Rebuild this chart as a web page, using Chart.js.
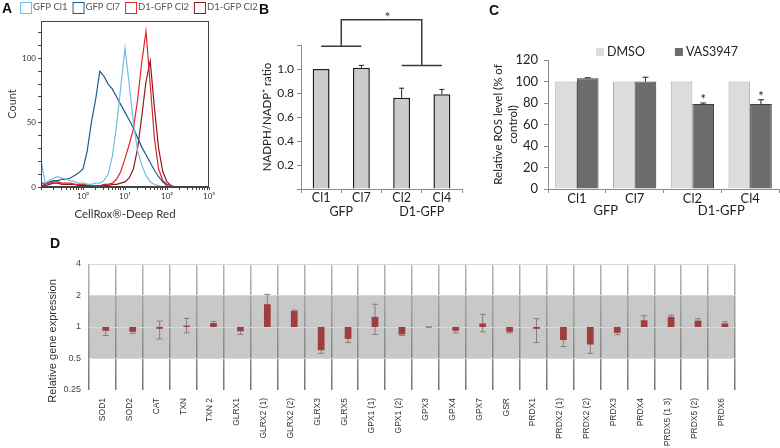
<!DOCTYPE html>
<html>
<head>
<meta charset="utf-8">
<script src="https://cdn.jsdelivr.net/npm/chart.js@4.4.1/dist/chart.umd.min.js"></script>
<style>
html,body{margin:0;padding:0;background:#fff;}
body{position:relative;width:780px;height:448px;overflow:hidden;}
canvas{position:absolute;}
.pl{position:absolute;font-family:'Liberation Sans',Arial,sans-serif;font-weight:bold;font-size:14px;line-height:14px;color:#111;}
</style>
</head>
<body>
<canvas id="chartA" width="260" height="225" style="left:0;top:0;"></canvas>
<canvas id="chartB" width="250" height="225" style="left:225px;top:0;"></canvas>
<canvas id="chartC" width="300" height="225" style="left:480px;top:0;"></canvas>
<canvas id="chartD" width="780" height="213" style="left:0;top:235px;"></canvas>
<div class="pl" style="left:2px;top:1px;">A</div>
<div class="pl" style="left:259px;top:2px;">B</div>
<div class="pl" style="left:489px;top:3px;">C</div>
<div class="pl" style="left:50px;top:236px;">D</div>
<script>
// ---------------- Panel A : CellRox histograms ----------------
const histX = [0.1,0.126,0.158,0.2,0.251,0.316,0.398,0.501,0.631,0.794,1,1.26,1.58,2,2.51,3.16,3.98,5.01,6.31,7.94,10,12.6,15.8,20,25.1,31.6,39.8,50.1,63.1,79.4,100,126,158,200,251];
const histGfpCl1 = [21,3,5,7,8,7,6,5,4,3,3,2,2,3,3,5,10,24,48,78,108,80,50,28,17,9,4,2,1,0,0,0,0,0,0];
const histGfpCl7 = [3,3,4,5,5,6,6,7,9,11,14,28,50,68,90,86,80,76,70,64,58,52,46,38,31,25,19,13,8,4,1,0,0,0,0];
const histD1Cl2a = [1,2,3,4,4,3,3,3,2,2,2,2,1,1,1,2,2,3,6,12,22,33,45,68,97,121,80,38,14,5,2,1,0,0,0];
const histD1Cl2b = [1,1,2,3,3,2,2,2,2,1,1,1,1,1,1,1,1,2,2,3,4,7,14,30,55,82,98,62,30,12,4,1,0,0,0];
const histLabels = ['GFP Cl1','GFP Cl7','D1-GFP Cl2','D1-GFP Cl2'];
const aYLabelled = [0,50,100];
const aXDecades = [0,1,2,3];
const supDigits = ['\u2070','\u00b9','\u00b2','\u00b3'];

// ---------------- Panel B : NADPH/NADP+ ratio ----------------
const bCats = ['Cl1','Cl7','Cl2','Cl4'];
const bGroups = ['GFP','D1-GFP'];
const bRatio = [1.00,1.01,0.76,0.79];
const bRatioErr = [0,0.02,0.08,0.04];
const bSig = {left:1.19, right:1.03, top:1.41, star:1.43, starAt:1.65};

// ---------------- Panel C : relative ROS level ----------------
const cCats = ['Cl1','Cl7','Cl2','Cl4'];
const cGroups = ['GFP','D1-GFP'];
const cDmso = [100,100,100,100];
const cDmsoErr = [0,0,0,0];
const cVas = [103,100,79,79];
const cVasErr = [0.5,4,1,4];
const cStars = ['','','*','*'];

// ---------------- Panel D : relative gene expression ----------------
const genes = ['SOD1','SOD2','CAT','TXN','TXN 2','GLRX1','GLRX2 (1)','GLRX2 (2)','GLRX3','GLRX5','GPX1 (1)','GPX1 (2)','GPX3','GPX4','GPX7','GSR','PRDX1','PRDX2 (1)','PRDX2 (2)','PRDX3','PRDX4','PRDX5 (1 3)','PRDX5 (2)','PRDX6'];
const geneExpr = [0.92,0.90,0.96,1.03,1.09,0.91,1.65,1.42,0.60,0.77,1.25,0.85,1.00,0.92,1.08,0.90,0.96,0.75,0.68,0.88,1.16,1.25,1.15,1.08];
const geneLow  = [0.83,0.87,0.77,0.88,1.05,0.85,1.30,1.40,0.56,0.71,0.85,0.83,0.995,0.88,0.90,0.88,0.71,0.65,0.56,0.845,1.05,1.20,1.10,1.04];
const geneHigh = [0.99,0.93,1.14,1.21,1.13,0.97,2.05,1.45,0.64,0.83,1.65,0.87,1.005,0.96,1.32,0.92,1.20,0.86,0.82,0.91,1.28,1.30,1.20,1.12];
const dTicks = [0.25,0.5,1,2,4];
const dBand = [0.5,2];

// ---------------- common ----------------
Chart.defaults.animation = false;
Chart.defaults.responsive = false;
Chart.defaults.maintainAspectRatio = false;
Chart.defaults.devicePixelRatio = 1;
Chart.defaults.events = [];
Chart.defaults.plugins.legend.display = false;
Chart.defaults.plugins.tooltip.enabled = false;
const CAL = 'Lato, "Open Sans", sans-serif';
const ARIAL = '"Liberation Sans", Arial, sans-serif';
Chart.defaults.font.family = CAL;
const fixW = w => s => { s.width = w; };
const fixH = h => s => { s.height = h; };

const boxLegend = {
  id: 'boxLegend',
  afterDraw(chart, a, o) {
    const c = chart.ctx; c.save();
    c.font = o.font; c.textBaseline = 'middle'; c.textAlign = 'left';
    let x = o.x;
    chart.data.datasets.forEach(ds => {
      const s = o.box;
      if (o.filled) {
        c.fillStyle = ds.backgroundColor; c.fillRect(x, o.y - s / 2, s, s);
      } else {
        c.strokeStyle = ds.borderColor; c.lineWidth = 1; c.strokeRect(x + 0.5, Math.round(o.y - s / 2) + 0.5, s, s);
      }
      c.fillStyle = o.color;
      c.fillText(ds.label, x + s + o.gap, o.y);
      x += s + o.gap + c.measureText(ds.label).width + o.spacing;
    });
    c.restore();
  }
};
const framePlugin = {
  id: 'frame',
  afterDraw(chart, a, o) {
    const {left, top, right, bottom} = chart.chartArea; const c = chart.ctx;
    c.save(); c.strokeStyle = o.color; c.lineWidth = 1;
    c.strokeRect(Math.round(left) + 0.5, Math.round(top) + 0.5, Math.round(right - left) - 1, Math.round(bottom - top) - 1);
    c.restore();
  }
};
const errPlugin = {
  id: 'errBars',
  afterDatasetsDraw(chart, a, o) {
    const c = chart.ctx, ys = chart.scales.y;
    c.save();
    chart.data.datasets.forEach((ds, di) => {
      if (!ds.errorUp) return;
      const meta = chart.getDatasetMeta(di);
      meta.data.forEach((bar, i) => {
        const e = ds.errorUp[i];
        const top = ys.getPixelForValue(ds.data[i] + e);
        if (e > 0) {
          c.strokeStyle = o.color; c.lineWidth = o.width;
          c.beginPath(); c.moveTo(bar.x, bar.y); c.lineTo(bar.x, top);
          c.moveTo(bar.x - o.cap / 2, top); c.lineTo(bar.x + o.cap / 2, top); c.stroke();
        }
        if (ds.stars && ds.stars[i]) {
          c.fillStyle = o.color; c.font = o.starFont; c.textAlign = 'center'; c.textBaseline = 'middle';
          c.fillText(ds.stars[i], bar.x, top - o.starGap);
        }
      });
    });
    c.restore();
  }
};
const groupPlugin = {
  id: 'groups',
  afterDraw(chart, a, o) {
    const xs = chart.scales.x, c = chart.ctx; c.save();
    c.font = o.font; c.fillStyle = o.color; c.textAlign = 'center'; c.textBaseline = 'middle';
    o.labels.forEach((g, gi) => {
      const n = o.size;
      const x = (xs.getPixelForValue(gi * n) + xs.getPixelForValue(gi * n + n - 1)) / 2;
      c.fillText(g, x, o.y);
    });
    c.restore();
  }
};
const bracketPlugin = {
  id: 'bracket',
  afterDraw(chart, a, o) {
    const xs = chart.scales.x, ys = chart.scales.y, c = chart.ctx;
    const X = v => xs.getPixelForValue(v), Y = v => ys.getPixelForValue(v);
    const L = o.levels;
    c.save(); c.strokeStyle = o.color; c.lineWidth = 1.5;
    c.beginPath();
    c.moveTo(X(0), Y(L.left)); c.lineTo(X(1), Y(L.left));
    c.moveTo(X(2), Y(L.right)); c.lineTo(X(3), Y(L.right));
    c.moveTo(X(0.5), Y(L.left)); c.lineTo(X(0.5), Y(L.top)); c.lineTo(X(2.5), Y(L.top)); c.lineTo(X(2.5), Y(L.right));
    c.stroke();
    c.fillStyle = o.color; c.font = o.font; c.textAlign = 'center'; c.textBaseline = 'middle';
    c.fillText('*', X(L.starAt), Y(L.star));
    c.restore();
  }
};
const bandPlugin = {
  id: 'band',
  beforeDraw(chart, a, o) {
    const {left, right} = chart.chartArea; const ys = chart.scales.y;
    const y1 = ys.getPixelForValue(o.range[1]), y0 = ys.getPixelForValue(o.range[0]);
    const c = chart.ctx; c.save(); c.fillStyle = o.color; c.fillRect(left, y1, right - left, y0 - y1); c.restore();
  }
};
const rangeErrPlugin = {
  id: 'rangeErr',
  beforeDatasetsDraw(chart, a, o) {
    const meta = chart.getDatasetMeta(o.dataset); const ys = chart.scales.y, c = chart.ctx;
    c.save(); c.strokeStyle = o.color; c.lineWidth = 1;
    meta.data.forEach((bar, i) => {
      const yl = ys.getPixelForValue(o.low[i]), yh = ys.getPixelForValue(o.high[i]);
      c.beginPath();
      c.moveTo(bar.x, yl); c.lineTo(bar.x, yh);
      c.moveTo(bar.x - o.cap / 2, yl); c.lineTo(bar.x + o.cap / 2, yl);
      c.moveTo(bar.x - o.cap / 2, yh); c.lineTo(bar.x + o.cap / 2, yh);
      c.stroke();
    });
    c.restore();
  }
};
const rotTitle = {
  id: 'rotTitle',
  afterDraw(chart, a, o) {
    const c = chart.ctx; c.save(); c.translate(o.x, o.y); c.rotate(-Math.PI / 2);
    c.font = o.font; c.fillStyle = o.color; c.textAlign = 'center'; c.textBaseline = 'middle';
    c.fillText(o.text, 0, 0); c.restore();
  }
};

// ---------------- Chart A ----------------
const histSeries = [histGfpCl1, histGfpCl7, histD1Cl2a, histD1Cl2b];
const histColors = ['#72bde4', '#1c5c8d', '#e3232b', '#8c1b1b'];
new Chart(document.getElementById('chartA'), {
  type: 'line',
  data: {
    datasets: histSeries.map((s, k) => ({
      label: histLabels[k],
      data: histX.map((x, i) => ({x: x, y: s[i]})),
      borderColor: histColors[k], backgroundColor: '#fff', borderWidth: 1.2, fill: false,
      pointRadius: 0, tension: 0
    }))
  },
  options: {
    layout: {padding: {left: 0, top: 21, right: 51, bottom: 0}},
    scales: {
      x: {
        type: 'logarithmic', min: 0.1, max: 1000,
        afterBuildTicks: s => {
          const t = [];
          for (let e = -1; e <= 2; e++) for (let m = 1; m <= 9; m++) t.push({value: m * Math.pow(10, e)});
          t.push({value: 1000});
          s.ticks = t;
        },
        ticks: {
          autoSkip: false, maxRotation: 0, font: {size: 8}, color: '#333', padding: 2,
          callback: v => {
            const e = Math.round(Math.log10(v));
            return (Math.abs(Math.log10(v) - e) < 1e-6 && aXDecades.includes(e)) ? '10' + supDigits[e] : '';
          }
        },
        grid: {drawOnChartArea: false, drawTicks: true, tickLength: 3, color: '#444'},
        border: {color: '#444'},
        title: {display: true, text: 'CellRox\u00ae-Deep Red', font: {size: 11.5}, color: '#333', padding: {top: 0, bottom: 4}},
        afterFit: fixH(38)
      },
      y: {
        min: 0, max: 129,
        afterBuildTicks: s => { const t = []; for (let v = 0; v <= 120; v += 10) t.push({value: v}); s.ticks = t; },
        ticks: {font: {size: 8}, color: '#333', padding: 2, callback: v => aYLabelled.includes(v) ? String(v) : ''},
        grid: {drawOnChartArea: false, drawTicks: true, tickLength: 3, color: '#444'},
        border: {color: '#444'},
        title: {display: true, text: 'Count', font: {size: 11}, color: '#444', padding: {top: 6, bottom: 0}},
        afterFit: fixW(41)
      }
    },
    plugins: {
      frame: {color: '#444'},
      boxLegend: {x: 20, y: 7, box: 11, gap: 2, spacing: 5, font: '9.5px ' + CAL, color: '#555', filled: false}
    }
  },
  plugins: [framePlugin, boxLegend]
});

// ---------------- Chart B ----------------
new Chart(document.getElementById('chartB'), {
  type: 'bar',
  data: {
    labels: bCats,
    datasets: [{
      label: 'NADPH/NADP+ ratio', data: bRatio, errorUp: bRatioErr,
      backgroundColor: '#cccccc', borderColor: '#1e1e1e', borderWidth: 1.5,
      barPercentage: 0.42, categoryPercentage: 1
    }]
  },
  options: {
    layout: {padding: {left: 0, top: 45, right: 13, bottom: 0}},
    scales: {
      x: {
        grid: {drawOnChartArea: false, tickLength: 4, color: '#8a8a8a'},
        border: {color: '#8a8a8a'},
        ticks: {font: {size: 12.5}, color: '#222', padding: -3},
        afterFit: fixH(36)
      },
      y: {
        min: 0, max: 1.2,
        ticks: {stepSize: 0.2, font: {size: 12}, color: '#222', padding: 3,
          callback: v => (v > 0.05 && v < 1.15) ? v.toFixed(1) : ''},
        grid: {drawOnChartArea: false, tickLength: 4, color: '#8a8a8a'},
        border: {color: '#8a8a8a'},
        title: {display: true, text: 'NADPH/NADP\u207a ratio', font: {size: 11.5}, color: '#222', padding: {top: 35, bottom: 0}},
        afterFit: fixW(76)
      }
    },
    plugins: {
      errBars: {color: '#222', width: 1, cap: 5, starFont: '13px ' + CAL, starGap: 3},
      groups: {labels: bGroups, size: 2, y: 212, font: '12.5px ' + CAL, color: '#222'},
      bracket: {levels: bSig, color: '#3a3a3a', font: '14px ' + CAL}
    }
  },
  plugins: [errPlugin, groupPlugin, bracketPlugin]
});

// ---------------- Chart C ----------------
new Chart(document.getElementById('chartC'), {
  type: 'bar',
  data: {
    labels: cCats,
    datasets: [
      {label: 'DMSO', data: cDmso, errorUp: cDmsoErr, backgroundColor: '#dcdcdc', borderColor: '#a8a8a8', borderWidth: 1,
       categoryPercentage: 0.75, barPercentage: 1},
      {label: 'VAS3947', data: cVas, errorUp: cVasErr, stars: cStars, backgroundColor: '#6c6c6c', borderColor: '#3c3c3c', borderWidth: 1,
       categoryPercentage: 0.75, barPercentage: 1}
    ]
  },
  options: {
    layout: {padding: {left: 0, top: 60, right: 1, bottom: 0}},
    scales: {
      x: {
        grid: {drawOnChartArea: false, tickLength: 4, color: '#8a8a8a'},
        border: {color: '#8a8a8a'},
        ticks: {font: {size: 13}, color: '#222', padding: -2},
        afterFit: fixH(36)
      },
      y: {
        min: 0, max: 120,
        ticks: {stepSize: 20, font: {size: 13}, color: '#222', padding: 6},
        grid: {drawOnChartArea: false, tickLength: 4, color: '#8a8a8a'},
        border: {color: '#8a8a8a'},
        title: {display: true, text: ['Relative ROS level (% of', 'control)'], font: {size: 11.5, lineHeight: 1.3}, color: '#222', padding: {top: 10.5, bottom: 0}},
        afterFit: fixW(68)
      }
    },
    plugins: {
      errBars: {color: '#222', width: 1, cap: 6, starFont: '13px ' + CAL, starGap: 3},
      groups: {labels: cGroups, size: 2, y: 211, font: '13px ' + CAL, color: '#222'},
      boxLegend: {x: 116, y: 52, box: 8, gap: 3, spacing: 30, font: '12.5px ' + CAL, color: '#222', filled: true}
    }
  },
  plugins: [errPlugin, groupPlugin, boxLegend]
});

// ---------------- Chart D ----------------
new Chart(document.getElementById('chartD'), {
  type: 'bar',
  data: {
    labels: genes,
    datasets: [
      {label: '', data: genes.map(() => null)},
      {label: 'Relative gene expression', data: geneExpr.map(v => [1, v]), backgroundColor: '#a03d3d', borderWidth: 0}
    ]
  },
  options: {
    layout: {padding: {left: 0, right: 45, top: 29, bottom: 0}},
    datasets: {bar: {categoryPercentage: 0.5, barPercentage: 1}},
    scales: {
      x: {
        grid: {offset: true, drawTicks: false, lineWidth: 1.5,
          color: c => {
            const a = c.chart.chartArea;
            if (!a) return '#8c8c8c';
            const g = c.chart.ctx.createLinearGradient(0, a.top, 0, a.bottom);
            g.addColorStop(0, '#b4b4b4'); g.addColorStop(1, '#767676');
            return g;
          }},
        border: {display: false},
        ticks: {autoSkip: false, minRotation: 90, maxRotation: 90, padding: 8, font: {family: ARIAL, size: 8.5}, color: '#333'},
        afterFit: fixH(58)
      },
      y: {
        type: 'logarithmic', min: 0.25, max: 4,
        afterBuildTicks: s => { s.ticks = dTicks.map(v => ({value: v})); },
        ticks: {callback: v => String(v), padding: 8, font: {family: ARIAL, size: 9}, color: '#444'},
        grid: {drawTicks: false, lineWidth: 1, color: c => (c.tick && c.tick.value === 0.25) ? 'rgba(0,0,0,0)' : '#d9d9d9'},
        border: {display: false},
        afterFit: fixW(89)
      }
    },
    plugins: {
      band: {range: dBand, color: '#c8c8c8'},
      rangeErr: {dataset: 1, low: geneLow, high: geneHigh, color: '#808080', cap: 6},
      rotTitle: {text: 'Relative gene expression', x: 53, y: 106, font: '11px ' + ARIAL, color: '#333'}
    }
  },
  plugins: [bandPlugin, rangeErrPlugin, rotTitle]
});
</script>
</body>
</html>
